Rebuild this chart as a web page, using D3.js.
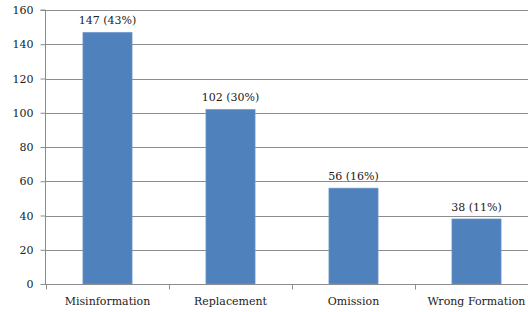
<!DOCTYPE html>
<html>
<head>
<meta charset="utf-8">
<script src="https://cdn.jsdelivr.net/npm/d3@7"></script>
<style>
  body { margin: 0; background: #fff; }
  text { font-family: "DejaVu Serif", serif; fill: #222; }
</style>
</head>
<body>
<div class="chart"></div>
<script>
var categories = ["Misinformation", "Replacement", "Omission", "Wrong Formation"]
var counts = [147, 102, 56, 38]
var shares = ["43%", "30%", "16%", "11%"]
var yTicks = [0, 20, 40, 60, 80, 100, 120, 140, 160]

var width = 528, height = 312

var svg = d3.select('.chart')
    .append('svg')
    .attr('width', width)
    .attr('height', height)

var x = d3.scaleBand()
    .domain(categories)
    .range([46, 538])
    .paddingInner(0.6)
    .paddingOuter(0.3)

var y = d3.scaleLinear()
    .domain([0, 160])
    .range([284, 10])

// gridlines
svg.append('g')
    .selectAll('line')
    .data(yTicks.filter(d => d > 0))
    .enter()
    .append('line')
    .attr('x1', 46)
    .attr('x2', width)
    .attr('y1', d => Math.round(y(d)) + 0.5)
    .attr('y2', d => Math.round(y(d)) + 0.5)
    .attr('stroke', '#8c8c8c')
    .attr('stroke-width', 1)

// bars
svg.append('g')
    .selectAll('rect')
    .data(counts)
    .enter()
    .append('rect')
    .attr('x', (d, i) => x(categories[i]))
    .attr('y', d => y(d))
    .attr('width', x.bandwidth())
    .attr('height', d => y(0) - y(d))
    .attr('fill', '#4f81bd')
    .attr('stroke', '#7a9fd0')
    .attr('stroke-width', 0.6)

// value labels
svg.append('g')
    .selectAll('text')
    .data(counts)
    .enter()
    .append('text')
    .attr('x', (d, i) => x(categories[i]) + x.bandwidth() / 2)
    .attr('y', d => y(d) - 8)
    .attr('text-anchor', 'middle')
    .style('font-size', '11px')
    .text((d, i) => d + ' (' + shares[i] + ')')

// y axis
var yAxis = d3.axisLeft(y).tickValues(yTicks).tickSize(5).tickPadding(7)
var gy = svg.append('g')
    .attr('transform', 'translate(45.5,0)')
    .call(yAxis)
gy.select('.domain').attr('stroke', '#8c8c8c').attr('d', 'M-5,' + y(160) + 'H0V' + y(0))
gy.selectAll('.tick line').attr('stroke', '#8c8c8c')
gy.selectAll('.tick text').style('font-size', '11px').style('font-family', '"DejaVu Serif", serif').attr('fill', '#222')

// x axis
var gx = svg.append('g')
    .attr('transform', 'translate(0,284.5)')
gx.append('line')
    .attr('x1', 45).attr('x2', width)
    .attr('stroke', '#8c8c8c')
gx.selectAll('.sep')
    .data([46, 46 + 123, 46 + 246, 46 + 369])
    .enter()
    .append('line')
    .attr('class', 'sep')
    .attr('x1', d => Math.round(d) + 0.5)
    .attr('x2', d => Math.round(d) + 0.5)
    .attr('y1', 0)
    .attr('y2', 5)
    .attr('stroke', '#8c8c8c')
gx.selectAll('text')
    .data(categories)
    .enter()
    .append('text')
    .attr('x', d => x(d) + x.bandwidth() / 2)
    .attr('y', 20)
    .attr('text-anchor', 'middle')
    .style('font-size', '11px')
    .text(d => d)
</script>
</body>
</html>
